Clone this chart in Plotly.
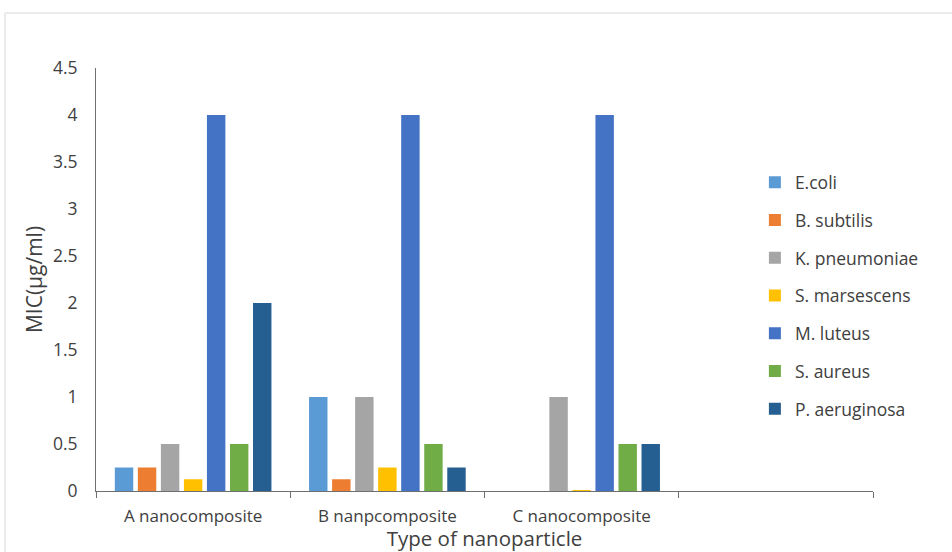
import plotly.graph_objects as go

# MIC values (µg/ml) for each nanoparticle type against each bacterium
categories = ["A nanocomposite", "B nanpcomposite", "C nanocomposite"]
species = ["E.coli", "B. subtilis", "K. pneumoniae", "S. marsescens",
           "M. luteus", "S. aureus", "P. aeruginosa"]
mic_values = {
    "E.coli":        [0.25, 1.0, 0.0],
    "B. subtilis":   [0.25, 0.125, 0.0],
    "K. pneumoniae": [0.5, 1.0, 1.0],
    "S. marsescens": [0.125, 0.25, 0.01],
    "M. luteus":     [4.0, 4.0, 4.0],
    "S. aureus":     [0.5, 0.5, 0.5],
    "P. aeruginosa": [2.0, 0.25, 0.5],
}
colors = ["#5B9BD5", "#ED7D31", "#A5A5A5", "#FFC000",
          "#4472C4", "#70AD47", "#255E91"]
y_ticks = [0, 0.5, 1, 1.5, 2, 2.5, 3, 3.5, 4, 4.5]
y_tick_text = ["0", "0.5", "1", "1.5", "2", "2.5", "3", "3.5", "4", "4.5"]

W, H = 952, 552
ML, MR, MT, MB = 96, 79, 68, 61
FONT = "'Open Sans', Lato, sans-serif"
TXT = "#404040"
AXIS = "#6f6f6f"
TICK_SIZE = 17
TITLE_SIZE = 20.5

x_pos = list(range(len(categories)))

fig = go.Figure()
for name, col in zip(species, colors):
    fig.add_trace(go.Bar(
        x=x_pos, y=mic_values[name], name=name,
        marker=dict(color=col, line=dict(width=0)),
        legendgroup=name,
    ))

plot_w = W - ML - MR
plot_h = H - MT - MB

# light outer frame of the chart area
fig.add_shape(
    type="rect", xref="paper", yref="paper",
    x0=(5 - ML) / plot_w, x1=(W + 10 - ML) / plot_w,
    y0=-(MB + 10) / plot_h, y1=(plot_h + MT - 13) / plot_h,
    line=dict(color="#d9d9d9", width=1), fillcolor="rgba(0,0,0,0)",
    layer="below",
)

fig.update_layout(
    width=W, height=H,
    margin=dict(l=ML, r=MR, t=MT, b=MB, pad=0),
    paper_bgcolor="white", plot_bgcolor="white",
    font=dict(family=FONT, size=TICK_SIZE, color=TXT),
    barmode="group", bargap=0.17, bargroupgap=0.2,
    showlegend=True,
    legend=dict(
        x=0.848, y=0.772, xanchor="left", yanchor="top",
        traceorder="grouped", tracegroupgap=12,
        font=dict(family=FONT, size=17.5, color=TXT),
        bgcolor="rgba(0,0,0,0)",
    ),
    xaxis=dict(
        range=[-0.5, 3.5], automargin=False,
        tickmode="array", tickvals=x_pos, ticktext=categories,
        ticks="", ticklabelstandoff=10,
        showline=True, linecolor=AXIS, linewidth=1,
        showgrid=False, zeroline=False,
        tickfont=dict(family=FONT, size=TICK_SIZE, color=TXT),
        minor=dict(tick0=0.5, dtick=1, ticks="outside", ticklen=6,
                   tickcolor=AXIS, tickwidth=1, showgrid=False),
        title=dict(text="Type of nanoparticle", standoff=4,
                   font=dict(family=FONT, size=TITLE_SIZE, color=TXT)),
    ),
    yaxis=dict(
        range=[0, 4.5], automargin=False,
        tickmode="array", tickvals=y_ticks, ticktext=y_tick_text,
        ticks="", ticklabelstandoff=14,
        showline=True, linecolor=AXIS, linewidth=1,
        showgrid=False, zeroline=False,
        tickfont=dict(family=FONT, size=17.5, color=TXT),
        title=dict(text="MIC(µg/ml)", standoff=4,
                   font=dict(family=FONT, size=21, color=TXT)),
    ),
)

fig.write_html("out.html")
